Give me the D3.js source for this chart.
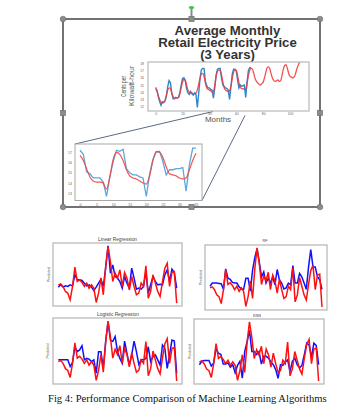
<!DOCTYPE html>
<html><head><meta charset="utf-8">
<script src="https://cdn.jsdelivr.net/npm/d3@7"></script>
<style>html,body{margin:0;padding:0;background:#fff;} svg{display:block;}</style>
</head><body>
<script>
// ---------- DATA ----------
const titleLines = ["Average Monthly", "Retail Electricity Price", "(3 Years)"];
const mainYLabel = ["Cents per", "Kilowatt-hour"];
const mainXLabel = "Months";
const mainXTicks = [0, 20, 40, 60, 80, 100];
const mainYTicks = [12, 13, 14, 15, 16, 17, 18];
const mainActual = [14.5,14.2,13.4,12.7,12.2,12.7,12.6,12.8,13.5,14.8,
  15.6,15.3,13.8,13.1,13.1,13.3,13.2,13.3,13.9,15.0,
  15.9,16.0,15.6,14.5,13.9,13.7,14.1,13.8,13.6,13.9,
  13.7,11.9,13.8,15.9,17.1,17.3,17.3,15.5,14.9,14.6,
  14.6,14.4,14.3,13.2,14.6,16.4,17.2,17.3,17.3,16.0,
  15.0,14.8,14.6,14.5,14.3,13.0,14.8,16.5,17.2,17.2,
  16.9,15.6,14.6,15.0,14.8,14.9,15.0,13.3,15.4,17.0,
  17.4,17.4];
const mainPredicted = [14.7,14.2,13.5,13.0,12.6,12.5,12.6,12.9,13.6,14.3,
  14.6,14.5,13.9,13.4,13.2,13.2,13.2,13.3,13.8,14.6,
  15.4,15.8,15.7,15.0,14.3,14.0,13.9,13.9,13.8,13.8,
  13.9,14.3,15.1,15.9,16.5,16.6,16.2,15.3,14.6,14.4,
  14.3,14.2,14.0,14.1,15.0,16.2,16.9,17.1,17.0,16.4,
  15.4,14.6,14.3,14.2,14.1,14.2,14.8,15.9,16.8,17.1,
  17.0,16.3,15.3,14.7,14.5,14.5,14.4,14.5,15.2,16.3,
  17.0,17.3,17.2,16.6,15.9,15.5,15.3,15.1,15.0,15.2,
  15.4,16.0,16.8,17.4,17.5,17.2,16.5,15.9,15.6,15.5,
  15.6,15.7,15.5,15.6,16.3,17.2,17.7,17.8,17.3,16.6,
  16.2,16.1,16.0,16.1,16.5,17.2,17.7,18.1];

const insetXTicks = [0, 5, 10, 15, 20, 25, 30, 35];
const insetYTicks = [13, 14, 15, 16, 17];
const insetActual = [17.2,16.8,15.1,14.9,14.5,14.5,14.5,14.1,12.7,14.6,
  16.1,17.2,17.1,17.3,15.4,15.0,14.8,14.8,14.6,14.5,
  12.7,14.9,16.3,17.0,17.1,16.1,14.8,15.3,15.3,15.4,
  15.4,15.5,13.2,15.8,17.4,17.4];
const insetPredicted = [16.7,16.2,15.4,14.6,14.2,14.1,14.1,14.0,13.4,14.6,
  16.3,17.0,16.8,16.2,15.3,14.7,14.5,14.4,14.2,14.0,
  13.9,14.7,16.2,17.1,17.0,16.5,15.6,14.9,14.8,14.7,
  14.5,14.4,14.5,15.3,16.2,16.9];

const modelNames = ["Linear Regression", "RF", "Logistic Regression", "KNN"];
const modelYLabel = "Predicted";
const testActual = [6.3,6.6,5.8,4.3,3.8,1.8,5.8,11.6,7.3,7.8,
  7.0,5.8,6.8,5.3,6.3,5.3,1.0,3.8,8.3,3.3,
  11.8,17.8,13.3,7.3,9.8,8.3,10.8,5.8,10.0,8.3,
  4.8,8.8,5.8,3.3,3.8,6.8,5.8,12.0,2.3,4.3,
  9.3,6.8,4.3,2.8,7.3,11.3,12.8,5.8,10.0,10.3,0.8];
const predLinear = [5.6,6.3,5.6,6.0,5.8,6.3,6.0,9.3,7.8,7.8,
  7.6,6.8,6.0,6.3,5.6,4.6,5.6,6.8,8.0,5.8,
  11.3,18.0,9.8,12.3,8.8,8.3,7.3,5.3,8.8,6.8,
  5.3,11.3,8.3,5.0,5.3,5.0,5.8,10.3,3.8,6.3,
  8.8,7.3,6.3,6.5,6.3,9.3,10.8,7.3,11.0,10.0,5.3];
const predRF = [6.8,7.7,7.7,7.7,7.6,7.5,5.9,11.8,9.1,8.8,
  7.9,7.7,7.7,6.6,6.0,5.9,9.1,9.1,5.4,11.4,
  15.0,17.6,13.7,9.5,10.9,7.7,9.1,7.7,9.5,7.2,
  11.6,8.6,7.7,6.0,6.3,7.7,7.2,12.7,7.7,7.7,
  10.5,9.5,7.7,5.9,12.3,17.3,12.3,12.3,9.5,8.6,5.9];
const predLogistic = [6.8,6.8,6.8,6.8,6.8,4.9,6.1,10.5,9.1,9.6,
  10.8,6.8,7.2,7.0,6.3,6.8,3.0,9.1,9.1,4.4,
  12.0,17.6,12.4,12.0,13.4,9.1,7.2,5.8,12.1,8.6,
  5.3,8.2,12.1,9.1,5.5,6.8,6.8,7.2,10.5,6.3,
  7.7,8.2,6.8,5.3,11.0,10.1,4.4,8.2,12.4,12.1,3.0];
const predKNN = [5.5,6.5,6.7,6.7,6.7,5.1,6.0,10.2,8.8,8.5,
  5.7,5.7,6.0,4.8,5.5,3.2,5.3,6.5,1.6,9.3,
  12.1,15.4,9.3,9.3,8.4,9.3,5.7,7.9,7.9,7.4,
  6.3,5.5,4.1,1.6,5.5,5.3,6.3,6.9,3.6,6.5,
  7.4,5.5,4.6,5.3,8.4,11.7,11.2,7.6,11.7,11.0,5.5];
const modelPredictions = [predLinear, predRF, predLogistic, predKNN];

const caption = "Fig 4: Performance Comparison of Machine Learning Algorithms";

// ---------- DRAW ----------
const W = 364, H = 411;
const FONT = "'Liberation Sans', Arial, sans-serif";
const svg = d3.select("body").append("svg").attr("width", W).attr("height", H)
  .style("font-family", FONT);
svg.append("rect").attr("width", W).attr("height", H).attr("fill", "#fff");

// Outer selection frame with handles
const F = {x0: 63, y0: 19, x1: 320, y1: 207};
const midX = (F.x0 + F.x1) / 2, midY = (F.y0 + F.y1) / 2;
svg.append("line").attr("x1", midX).attr("x2", midX).attr("y1", 9).attr("y2", F.y0)
  .attr("stroke", "#8a8a8a").attr("stroke-width", 2);
svg.append("ellipse").attr("cx", midX).attr("cy", 7.5).attr("rx", 2.8).attr("ry", 1.6)
  .attr("fill", "#3cc83c");
svg.append("rect").attr("x", F.x0).attr("y", F.y0).attr("width", F.x1 - F.x0).attr("height", F.y1 - F.y0)
  .attr("fill", "none").attr("stroke", "#505050").attr("stroke-width", 1.6);

// main chart
const M = {x0: 148, y0: 62, x1: 309, y1: 111};
const mx = d3.scaleLinear().domain([-5.7, 114.1]).range([M.x0, M.x1]);
const my = d3.scaleLinear().domain([11.41, 18.18]).range([M.y1, M.y0]);
// inset chart
const I = {x0: 75, y0: 144, x1: 202, y1: 200.5};
const ix = d3.scaleLinear().domain([-1.51, 36.8]).range([I.x0, I.x1]);
const iy = d3.scaleLinear().domain([12.3, 17.81]).range([I.y1, I.y0]);

// connector lines
const conn = svg.append("g").attr("stroke", "#5a6a82").attr("stroke-width", 1);
conn.append("line").attr("x1", I.x0).attr("y1", I.y0).attr("x2", 213).attr("y2", 111.5);
conn.append("line").attr("x1", I.x1).attr("y1", I.y1).attr("x2", 245).attr("y2", 115.5);

// title
svg.append("g").selectAll("text").data(titleLines).join("text")
  .attr("x", 227.5).attr("y", (d, i) => 35 + i * 11.8)
  .attr("text-anchor", "middle").attr("font-weight", "bold").attr("font-size", 13.2)
  .attr("fill", "#333").text(d => d);

// main plot
svg.append("rect").attr("x", M.x0).attr("y", M.y0).attr("width", M.x1 - M.x0).attr("height", M.y1 - M.y0)
  .attr("fill", "#fff").attr("stroke", "#b8b8b8").attr("stroke-width", 1.2);
const mainG = svg.append("g");
const intFmt = d3.format("d");
mainG.append("g").attr("transform", `translate(0,${M.y1})`)
  .call(d3.axisBottom(mx).tickValues(mainXTicks).tickFormat(intFmt).tickSize(0).tickPadding(1.5))
  .call(g => g.select(".domain").remove())
  .selectAll("text").attr("font-size", 3.4).attr("fill", "#666").attr("font-family", FONT);
mainG.append("g").attr("transform", `translate(${M.x0 - 2},0)`)
  .call(d3.axisLeft(my).tickValues(mainYTicks).tickFormat(intFmt).tickSize(0).tickPadding(2))
  .call(g => g.select(".domain").remove())
  .selectAll("text").attr("font-size", 3.4).attr("fill", "#666").attr("font-family", FONT);

const lineMainA = d3.line().x((d, i) => mx(i)).y(d => my(d));
const lineMainP = d3.line().x((d, i) => mx(i)).y(d => my(d)).curve(d3.curveMonotoneX);
mainG.append("path").datum(mainActual).attr("d", lineMainA).attr("fill", "none")
  .attr("stroke", "#2f86cc").attr("stroke-width", 1.4);
mainG.append("path").datum(mainPredicted).attr("d", lineMainP).attr("fill", "none")
  .attr("stroke", "#f03a3a").attr("stroke-width", 1.3).attr("stroke-opacity", 0.88);

// main labels
svg.append("text").attr("transform", "translate(125.5,86.5) rotate(-90)").attr("text-anchor", "middle")
  .attr("font-size", 7.5).attr("fill", "#555").attr("textLength", 21).attr("lengthAdjust", "spacingAndGlyphs")
  .text(mainYLabel[0]);
svg.append("text").attr("transform", "translate(133.5,86) rotate(-90)").attr("text-anchor", "middle")
  .attr("font-size", 7.5).attr("fill", "#555").attr("textLength", 40).attr("lengthAdjust", "spacingAndGlyphs")
  .text(mainYLabel[1]);
svg.append("text").attr("x", 218).attr("y", 121.5).attr("text-anchor", "middle")
  .attr("font-size", 8).attr("fill", "#555").text(mainXLabel);

// inset plot
svg.append("rect").attr("x", I.x0).attr("y", I.y0).attr("width", I.x1 - I.x0).attr("height", I.y1 - I.y0)
  .attr("fill", "#fff").attr("stroke", "#a8a8a8").attr("stroke-width", 1);
const insG = svg.append("g");
insG.append("g").attr("transform", `translate(0,${I.y1 + 0.5})`)
  .call(d3.axisBottom(ix).tickValues(insetXTicks).tickFormat(intFmt).tickSize(0).tickPadding(2))
  .call(g => g.select(".domain").remove())
  .selectAll("text").attr("font-size", 3.6).attr("fill", "#666").attr("font-family", FONT);
insG.append("g").attr("transform", `translate(${I.x0 - 1},0)`)
  .call(d3.axisLeft(iy).tickValues(insetYTicks).tickFormat(intFmt).tickSize(0).tickPadding(2))
  .call(g => g.select(".domain").remove())
  .selectAll("text").attr("font-size", 3.6).attr("fill", "#666").attr("font-family", FONT);
const lineInsA = d3.line().x((d, i) => ix(i)).y(d => iy(d));
const lineInsP = d3.line().x((d, i) => ix(i)).y(d => iy(d)).curve(d3.curveMonotoneX);
insG.append("path").datum(insetActual).attr("d", lineInsA).attr("fill", "none")
  .attr("stroke", "#5ea6dc").attr("stroke-width", 1.3);
insG.append("path").datum(insetPredicted).attr("d", lineInsP).attr("fill", "none")
  .attr("stroke", "#f04545").attr("stroke-width", 1.2).attr("stroke-opacity", 0.9);

// handles (drawn on top)
const handles = svg.append("g");
[[F.x0, F.y0], [F.x1, F.y0], [F.x0, F.y1], [F.x1, F.y1]].forEach(([cx, cy]) => {
  handles.append("circle").attr("cx", cx).attr("cy", cy).attr("r", 2.8)
    .attr("fill", "#8c8c8c").attr("stroke", "#6a6a6a").attr("stroke-width", 0.6);
});
[[midX, F.y0], [midX, F.y1], [F.x0, midY], [F.x1, midY]].forEach(([cx, cy]) => {
  handles.append("rect").attr("x", cx - 2.6).attr("y", cy - 2.6).attr("width", 5.2).attr("height", 5.2)
    .attr("fill", "#8c8c8c").attr("stroke", "#6a6a6a").attr("stroke-width", 0.6);
});

// model panels
const panelBoxes = [
  {x0: 53, y0: 243, x1: 182, y1: 306, tx: 117.5, ty: 240.5, lx: 49.5},
  {x0: 205, y0: 245, x1: 327, y1: 310, tx: 265, ty: 242, lx: 201.5},
  {x0: 53, y0: 318, x1: 182, y1: 384, tx: 118, ty: 315.5, lx: 48.5},
  {x0: 194, y0: 319, x1: 324, y1: 384, tx: 257, ty: 316.5, lx: 190.5}
];
modelNames.forEach((name, k) => {
  const b = panelBoxes[k];
  const pred = modelPredictions[k];
  const n = testActual.length;
  const px = d3.scaleLinear().domain([-(n - 1) * 0.045, (n - 1) * 1.045]).range([b.x0, b.x1]);
  const ext = d3.extent(testActual.concat(pred));
  const pad = (ext[1] - ext[0]) * 0.05;
  const py = d3.scaleLinear().domain([ext[0] - pad, ext[1] + pad]).range([b.y1, b.y0]);
  const g = svg.append("g");
  g.append("rect").attr("x", b.x0).attr("y", b.y0).attr("width", b.x1 - b.x0).attr("height", b.y1 - b.y0)
    .attr("fill", "#fff").attr("stroke", "#b4b4b4").attr("stroke-width", 1.2);
  const ln = d3.line().x((d, i) => px(i)).y(d => py(d));
  g.append("path").datum(pred).attr("d", ln).attr("fill", "none")
    .attr("stroke", "#1010ff").attr("stroke-width", 1.5);
  g.append("path").datum(testActual).attr("d", ln).attr("fill", "none")
    .attr("stroke", "#ff1010").attr("stroke-width", 1.5);
  g.append("text").attr("x", b.tx).attr("y", b.ty).attr("text-anchor", "middle")
    .attr("font-size", name.length > 3 ? 4.8 : 3.8).attr("fill", "#444").text(name);
  g.append("text").attr("transform", `translate(${b.lx},${(b.y0 + b.y1) / 2}) rotate(-90)`)
    .attr("text-anchor", "middle").attr("font-size", 3.6).attr("fill", "#555").text(modelYLabel);
});

// caption
svg.append("text").attr("x", 48).attr("y", 402).attr("font-size", 10.6)
  .attr("font-family", "'Liberation Serif', 'Times New Roman', serif").attr("fill", "#111")
  .text(caption);
</script>
</body></html>
